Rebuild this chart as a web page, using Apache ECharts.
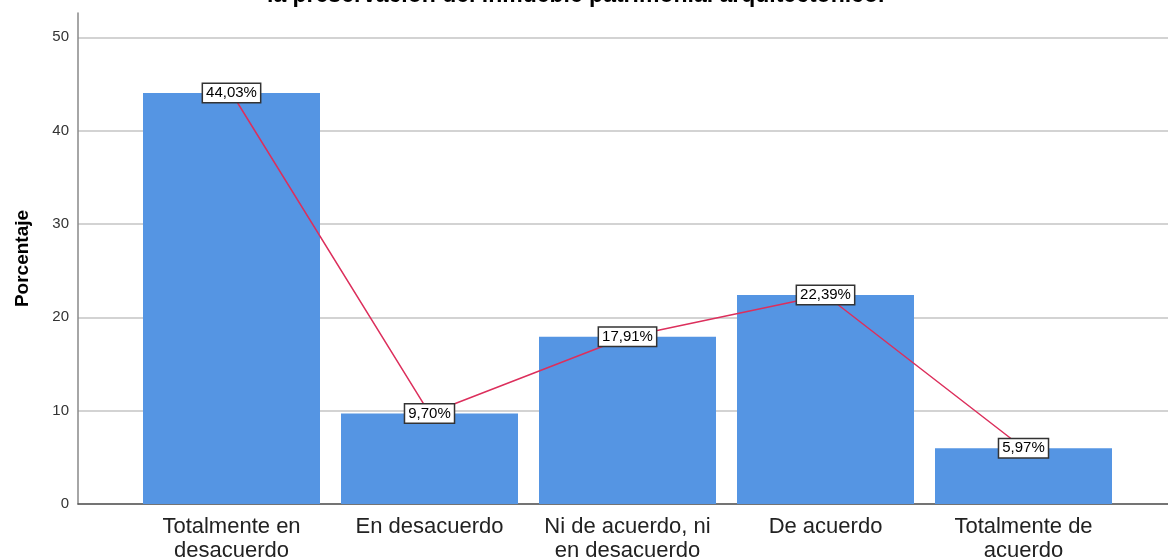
<!DOCTYPE html>
<html>
<head>
<meta charset="utf-8">
<script src="https://cdn.jsdelivr.net/npm/echarts@6/dist/echarts.min.js"></script>
<style>
  html, body { margin: 0; padding: 0; background: #fff; }
  #main { width: 1168px; height: 557px; }
</style>
</head>
<body>
<div id="main"></div>
<script>
  // Data
  var categories = [
    'Totalmente en\ndesacuerdo',
    'En desacuerdo',
    'Ni de acuerdo, ni\nen desacuerdo',
    'De acuerdo',
    'Totalmente de\nacuerdo'
  ];
  var percentages = [44.03, 9.70, 17.91, 22.39, 5.97];
  var yTicks = [0, 10, 20, 30, 40, 50];

  var myChart = echarts.init(document.getElementById('main'));

  /**
   * @name formatPercent
   * @desc spanish style percent label
   */
  function formatPercent(p) {
    return p.value.toFixed(2).replace('.', ',') + '%';
  }

  var yMax = 52.6;
  var option = {
    backgroundColor: '#ffffff',
    animation: false,
    title: {
      text: 'la preservación del inmueble patrimonial arquitectónico.',
      left: 262,
      top: -21,
      textStyle: {
        fontFamily: 'Liberation Sans',
        fontWeight: 'bold',
        fontSize: 23,
        color: '#000'
      }
    },
    grid: [
      // frame grid: y axis, gridlines and baseline
      { left: 78, right: 0, top: 13, bottom: 53, outerBoundsMode: 'none', containLabel: false },
      // plot grid: categories and bars
      { left: 132.5, right: 45.5, top: 13, bottom: 53, outerBoundsMode: 'none', containLabel: false }
    ],
    xAxis: [
      {
        gridIndex: 0,
        type: 'value',
        min: 0,
        max: 1,
        axisLine: { show: true, lineStyle: { color: '#555', width: 1.5 } },
        axisTick: { show: false },
        axisLabel: { show: false },
        splitLine: { show: false }
      },
      {
        gridIndex: 1,
        type: 'category',
        data: categories,
        axisLine: { show: false },
        axisTick: { show: false },
        axisLabel: {
          interval: 0,
          hideOverlap: false,
          margin: 11,
          fontFamily: 'Liberation Sans',
          fontSize: 22,
          lineHeight: 24,
          color: '#222'
        }
      }
    ],
    yAxis: [
      {
        gridIndex: 0,
        type: 'value',
        min: yTicks[0],
        max: yMax,
        interval: 10,
        name: 'Porcentaje',
        nameLocation: 'middle',
        nameGap: 46,
        nameTextStyle: {
          fontFamily: 'Liberation Sans',
          fontWeight: 'bold',
          fontSize: 19,
          color: '#000'
        },
        axisLine: { show: true, lineStyle: { color: '#888', width: 1.5 } },
        axisTick: { show: false },
        axisLabel: {
          showMaxLabel: false,
          margin: 9,
          fontFamily: 'Liberation Sans',
          fontSize: 15,
          color: '#333',
          formatter: function (v) {
            return yTicks.indexOf(v) >= 0 ? String(v) : '';
          }
        },
        splitLine: {
          show: true,
          showMaxLine: false,
          lineStyle: { color: '#c4c4c4', width: 1.5 }
        }
      },
      {
        gridIndex: 1,
        type: 'value',
        min: 0,
        max: yMax,
        show: false,
        splitLine: { show: false }
      }
    ],
    series: [
      {
        type: 'bar',
        xAxisIndex: 1,
        yAxisIndex: 1,
        barWidth: 177,
        itemStyle: { color: '#5595e3' },
        data: percentages
      },
      {
        type: 'line',
        xAxisIndex: 1,
        yAxisIndex: 1,
        symbol: 'circle',
        symbolSize: 1,
        lineStyle: { color: '#dc2f5c', width: 1.5 },
        itemStyle: { color: '#dc2f5c' },
        label: {
          show: true,
          position: 'inside',
          formatter: formatPercent,
          fontFamily: 'Liberation Sans',
          fontSize: 15,
          color: '#000',
          backgroundColor: '#fff',
          borderColor: '#333',
          borderWidth: 1.5,
          padding: [2, 3, 1, 3]
        },
        z: 5,
        data: percentages
      }
    ]
  };

  myChart.setOption(option);
</script>
</body>
</html>
